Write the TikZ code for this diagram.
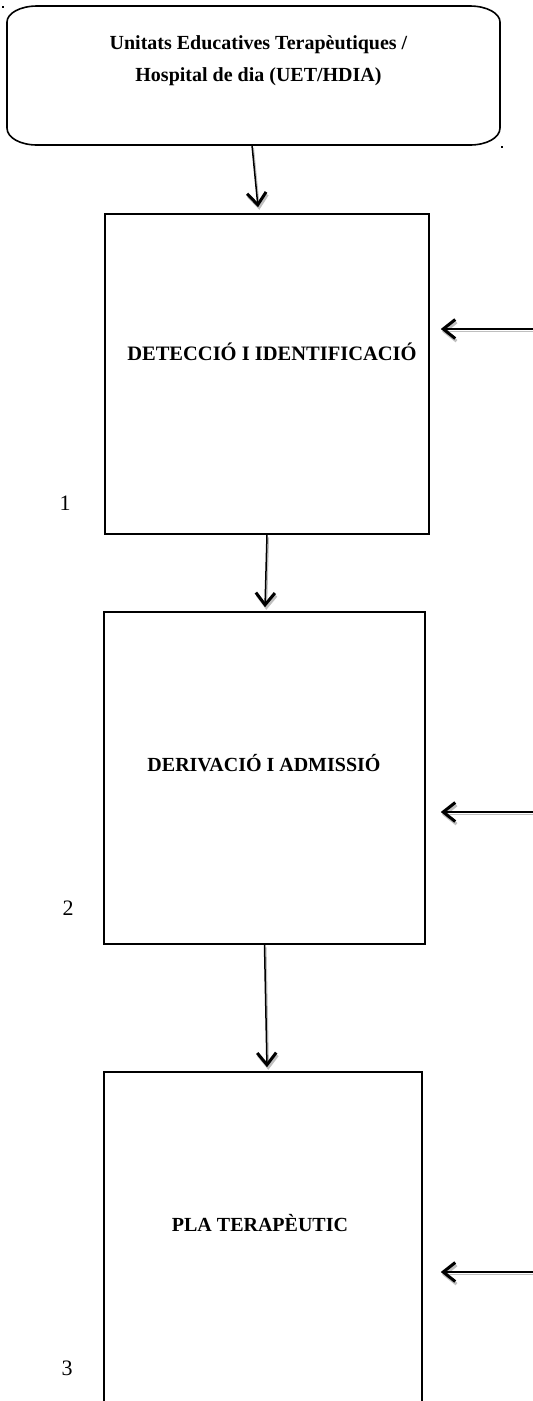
\documentclass[tikz,border=0pt]{standalone}
\usepackage{fontspec}
\setmainfont{Liberation Serif}
\usetikzlibrary{arrows.meta}
\newcommand\myarrows[1]{%
  \draw[conn,#1] ([xshift=-1.5pt]top.south) -- ([xshift=-9pt,yshift=6pt]b1.north);
  \draw[conn,#1] (b1.south) -- ([xshift=0.5pt,yshift=4pt]b2.north);
  \draw[conn,#1] (b2.south) -- ([xshift=4pt,yshift=4pt]b3.north);
  \draw[conn,#1,shorten >=11pt] (r1) -- (b1.east |- r1);
  \draw[conn,#1,shorten >=15pt] (r2) -- (b2.east |- r2);
  \draw[conn,#1,shorten >=18pt] (r3) -- (b3.east |- r3);
}
\begin{document}
\begin{tikzpicture}[x=1pt,y=-1pt,
  box/.style={draw, line width=1.6pt, inner sep=0pt},
  lbl/.style={font=\bfseries\fontsize{20}{32}\selectfont, align=center, inner sep=0pt},
  num/.style={font=\fontsize{22}{26}\selectfont, inner sep=0pt},
  conn/.style={line width=1.5pt, -{Straight Barb[length=12pt,width=19pt,line width=3pt]}},
  shad/.style={draw=black!25, transform canvas={shift={(1.3pt,-2.6pt)}}}]
\useasboundingbox (0,0) rectangle (533,1401);
\clip (0,0) rectangle (533,1401);
% top terminal shape
\node (top) [minimum width=493pt, minimum height=139pt, inner sep=0pt] at (253.5,75.5) {};
\draw[line width=1.6pt] (7,128) -- (7,22) .. controls (7,13.2) and (20.4,6) .. (37,6) -- (470,6)
  .. controls (486.6,6) and (500,13.2) .. (500,22) -- (500,128)
  .. controls (500,137.8) and (486.6,145) .. (470,145) -- (37,145)
  .. controls (20.4,145) and (7,137.8) .. (7,128) -- cycle;
\node (toptext) [lbl] at (258.5,61) {Unitats Educatives Terapèutiques /\\Hospital de dia (UET/HDIA)};
\fill (2,5.5) rectangle (4,7.5);
\fill (501,145.5) rectangle (503,147.5);
% boxes
\node (b1) [box, minimum width=324pt, minimum height=320pt] at (267,374) {};
\node (b2) [box, minimum width=321pt, minimum height=332pt] at (264.5,778) {};
\node (b3) [box, minimum width=318pt, minimum height=348pt] at (263,1246) {};
\node (t1) [lbl, font=\bfseries\fontsize{20.5}{32}\selectfont] at (272,352) {DETECCIÓ I IDENTIFICACIÓ};
\node (t2) [lbl] at (264,763) {DERIVACIÓ I ADMISSIÓ};
\node (t3) [lbl] at (260,1223) {PLA TERAPÈUTIC};
\node (n1) [num] at (65,503) {1};
\node (n2) [num] at (68,908) {2};
\node (n3) [num] at (67,1368) {3};
% right incoming arrows
\coordinate (r1) at (536,329);
\coordinate (r2) at (536,812);
\coordinate (r3) at (536,1272);
\myarrows{shad}
\myarrows{}
\end{tikzpicture}
\end{document}
